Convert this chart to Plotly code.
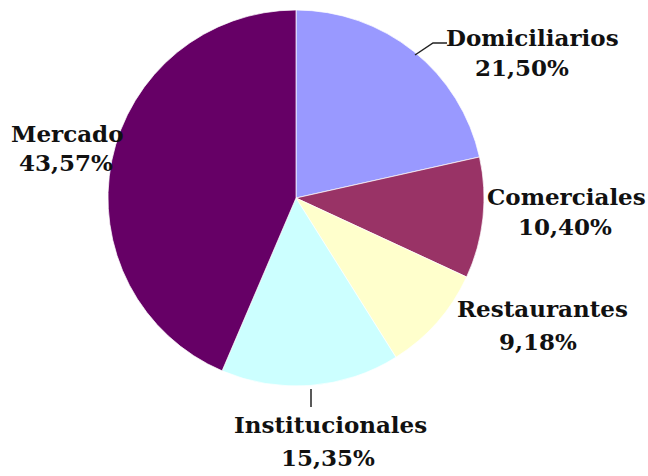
import plotly.graph_objects as go

# Data: share of each source (percent), clockwise from 12 o'clock
categories = ["Domiciliarios", "Comerciales", "Restaurantes", "Institucionales", "Mercado"]
shares = [21.50, 10.40, 9.18, 15.35, 43.57]
colors = ["#9999FF", "#993366", "#FFFFCC", "#CCFFFF", "#660066"]

W, H = 648, 476

def px(x):
    return x / W

def py(y):
    return 1 - y / H

# Label placement (pixel centres of the name line and the percentage line)
name_pos = {
    "Domiciliarios": (532, 38),
    "Comerciales": (566, 196),
    "Restaurantes": (542, 308),
    "Institucionales": (330, 424),
    "Mercado": (67, 133),
}
pct_pos = {
    "Domiciliarios": (522, 68),
    "Comerciales": (565, 226),
    "Restaurantes": (538, 341),
    "Institucionales": (328, 457),
    "Mercado": (66, 162),
}

fig = go.Figure(
    go.Pie(
        labels=categories,
        values=shares,
        marker=dict(colors=colors, line=dict(color="rgba(255,255,255,0.7)", width=1)),
        sort=False,
        direction="clockwise",
        rotation=0,
        textinfo="none",
        hoverinfo="label+percent",
        showlegend=False,
        domain=dict(x=[px(108), px(484)], y=[py(386), py(10)]),
    )
)

label_font = dict(family="DejaVu Serif", size=23, color="#111111")
annotations = []
for name, val in zip(categories, shares):
    nx, ny = name_pos[name]
    vx, vy = pct_pos[name]
    annotations.append(dict(
        x=px(nx), y=py(ny), xref="paper", yref="paper",
        text=f"<b>{name}</b>", showarrow=False,
        xanchor="center", yanchor="middle", font=label_font,
    ))
    annotations.append(dict(
        x=px(vx), y=py(vy), xref="paper", yref="paper",
        text="<b>" + f"{val:.2f}".replace(".", ",") + "%</b>", showarrow=False,
        xanchor="center", yanchor="middle", font=label_font,
    ))

# Leader lines
shapes = [
    dict(type="path", xref="paper", yref="paper",
         path=f"M {px(415)},{py(55)} L {px(433)},{py(43)} L {px(447)},{py(43)}",
         line=dict(color="#222222", width=1.5)),
    dict(type="line", xref="paper", yref="paper",
         x0=px(311), y0=py(389), x1=px(311), y1=py(407),
         line=dict(color="#222222", width=1.5)),
]

fig.update_layout(
    width=W, height=H,
    margin=dict(l=0, r=0, t=0, b=0),
    paper_bgcolor="white",
    plot_bgcolor="white",
    annotations=annotations,
    shapes=shapes,
)

fig.write_html("out.html")
